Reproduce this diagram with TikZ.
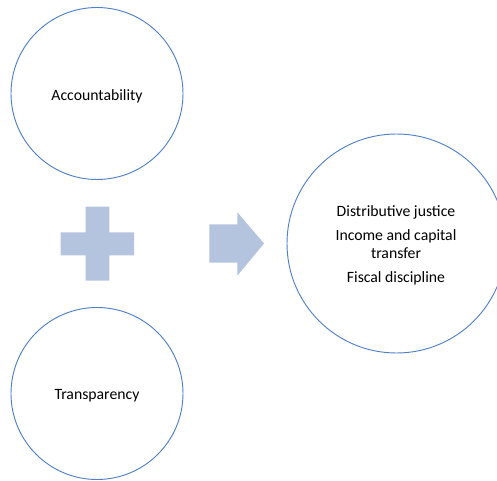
\documentclass[tikz,border=0pt]{standalone}
\usepackage{fontspec}
\setmainfont{Carlito}
\definecolor{ringblue}{RGB}{80,128,200}
\definecolor{shapefill}{RGB}{180,195,222}
\begin{document}
\begin{tikzpicture}[x=0.75pt,y=-0.75pt,
  ring/.style={circle,draw=ringblue,line width=0.7pt,inner sep=0pt},
  smallring/.style={ring,minimum size=172*0.75pt},
  bigring/.style={ring,minimum size=219*0.75pt},
  caption/.style={inner sep=0pt,align=center,
    font=\fontsize{11.8}{13.5}\selectfont},
  glyph/.style={fill=shapefill,draw=none}]
  \clip (0,0) rectangle (497,481);
  % two input circles
  \node[smallring] (acc) at (97,93.5) {};
  \node[caption] (accT) at (97,96) {Accountability};
  \node[smallring] (tra) at (97,393.5) {};
  \node[caption] (traT) at (97,395.5) {Transparency};
  % result circle
  \node[bigring] (res) at (396.5,243.5) {};
  \node[caption] (resT) at (396,245.5) {Distributive justice\\[4.5pt]
    Income and capital\\transfer\\[4.5pt]Fiscal discipline};
  % plus sign
  \fill[glyph] (85.7,206.7) -- (109.3,206.7) -- (109.3,232.3) -- (134,232.3)
    -- (134,255.3) -- (109.3,255.3) -- (109.3,280.7) -- (85.7,280.7)
    -- (85.7,255.3) -- (60.7,255.3) -- (60.7,232.3) -- (85.7,232.3) -- cycle;
  % block arrow
  \fill[glyph] (209.3,224.3) -- (237.3,224.3) -- (237.3,212.3) -- (264,243.5)
    -- (237.3,275.7) -- (237.3,262.7) -- (209.3,262.7) -- cycle;
\end{tikzpicture}
\end{document}
